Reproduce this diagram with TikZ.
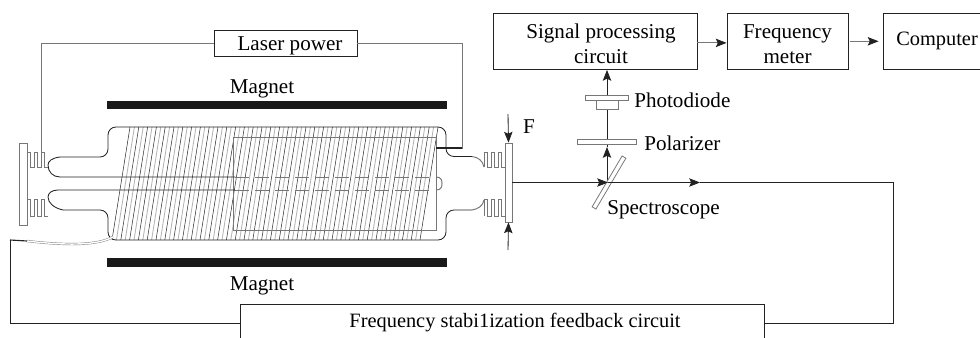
\documentclass[tikz,border=0pt]{standalone}
\usepackage{fontspec}
\setmainfont{Liberation Serif}
\usetikzlibrary{arrows.meta, positioning, calc}
\definecolor{wiredark}{HTML}{222222}
\definecolor{wiregrey}{HTML}{777777}
\definecolor{coilgrey}{HTML}{B4B4B4}

\begin{document}
\begin{tikzpicture}[x=.25mm, y=-.25mm, font=\fontsize{15}{18}\selectfont,
          wire/.style={draw=wiredark, line width=.6pt},
          softwire/.style={draw=wiregrey, line width=.7pt},
          tipped/.style={wire, -{Stealth[length=2.7mm, width=2.1mm, inset=.5mm, color=wiredark]}},
          blockbox/.style={draw=wiredark, line width=.6pt, fill=white, inner sep=0pt, align=center},
          plate/.style={draw=wiregrey, line width=.55pt, fill=white, inner sep=0pt},
          magnet/.style={fill=black!90, inner sep=0pt, minimum width=85mm, minimum height=2.1mm}]
  \useasboundingbox (0,0) rectangle (980,338);

  % coil windings
  \foreach \cx in {112,120.8,...,424} \draw[wire, line width=.35pt] (\cx,240) -- ++(18,-113);
  \foreach \cx in {116.4,125.2,...,424} \draw[draw=coilgrey, line width=.6pt] (\cx,240) -- ++(18,-113);
  \draw[softwire] (233.5,137) rectangle (436,230);

  % laser tube
  \draw[wire, rounded corners=2mm] (60,157) -- (108,157) -- (108,127) -- (446,127) -- (446,156.5) -- (472,156.5);
  \draw[wire, rounded corners=2mm] (63,210) -- (108,210) -- (108,240) -- (446,240) -- (446,210) -- (472,210);
  \draw[wire] (60,157) .. controls (52,158) and (48,161) .. (48,165) .. controls (48,172) and (53,177) .. (60,177) -- (235,177);
  \draw[wire] (63,210) .. controls (54,208) and (48,203) .. (48,197) .. controls (48,193) and (52,190) .. (58,190) -- (235,190);
  \draw[softwire] (472,156.5) .. controls (478,157) and (483,161) .. (484,167);
  \draw[softwire] (472,210) .. controls (478,209) and (483,206) .. (484,200);
  \draw[softwire, dash pattern=on 3.5mm off 1.5mm] (235,177) -- (430,177);
  \draw[softwire, dash pattern=on 3.5mm off 1.5mm] (235,190) -- (430,190);
  \draw[softwire] (436,177) .. controls (441,177) and (442,180) .. (442,183.5) .. controls (442,187) and (441,190) .. (436,190);

  % bellows
  \foreach \bx/\by/\bd in {27/152/15, 27/199/17, 484/152/15, 484/199/17}
    \draw[softwire] (\bx,\by+\bd) -- (\bx,\by) -- ++(3.5,0) -- ++(0,\bd) -- ++(3.5,0) -- ++(0,-\bd)
      -- ++(3.5,0) -- ++(0,\bd) -- ++(3.5,0) -- ++(0,-\bd) -- ++(3.5,0) -- ++(0,\bd) -- ++(3.5,0);

  \node[plate, minimum width=2mm, minimum height=20.5mm] (mirrorL) at (23,184) {};
  \node[plate, minimum width=1.75mm, minimum height=19.75mm] (mirrorR) at (508.5,182.5) {};
  \node[magnet] (magT) at (277,105) {};
  \node[magnet] (magB) at (277,262.5) {};
  \node at (262,88.5) (magTtext) {Magnet};
  \node at (262,286) (magBtext) {Magnet};

  % blocks
  \node[blockbox, minimum width=35.75mm, minimum height=6.7mm] (laser) at (285.5,43.4) {};
  \node at (290,46) (lasertext) {Laser power};
  \node[blockbox, minimum width=51mm, minimum height=14.1mm] (signal) at (595,41.3) {};
  \node[align=center] at (601,44) (signaltext) {Signal processing\\circuit};
  \node[blockbox, minimum width=30.25mm, minimum height=14.1mm] (freq) at (787.5,41.3) {};
  \node[align=center] at (787.5,44.5) (freqtext) {Frequency\\meter};
  \node[blockbox, minimum width=27mm, minimum height=14.1mm, font=\fontsize{14.5}{18}\selectfont] (comp) at (937,41.3) {Computer};
  \node[blockbox, minimum width=131mm, minimum height=9.5mm] (feedback) at (502,323) {};
  \node[font=\fontsize{14.5}{18}\selectfont] at (515,322.5) (feedbacktext) {Frequency stabi1ization feedback circuit};

  % connectors of the blocks
  \coordinate (laserL) at (41,152);
  \coordinate (laserR) at (436,148);
  \draw[softwire] (laser.west) -- (41,43.4) -- (laserL);
  \draw[softwire] (laser.east) -- (462,43.4) -- (462,148) -- (laserR);
  \draw[wire, line width=1.2pt] (laserR) -- (462,148);
  \draw[tipped, draw=wiregrey] ([yshift=-.4mm]signal.east) -- ([yshift=-.4mm]freq.west);
  \draw[tipped, draw=wiregrey] ([xshift=.5mm]freq.east) -- ([xshift=-1mm]comp.west);

  % optical path
  \coordinate (split) at (608,182.5);
  \coordinate (beammark) at (700,182.5);
  \coordinate (turn) at (893,182.5);
  \coordinate (polmark) at (607,147);
  \draw[tipped] (split -| polmark) -- (polmark);
  \draw[wire] (polmark) -- (607,100);
  \node[plate, minimum width=14.75mm, minimum height=1.1mm] (polarizer) at (607,142) {};
  \node[plate, minimum width=5.4mm, minimum height=2.3mm] (diodecase) at (607.5,104.5) {};
  \node[plate, minimum width=10.8mm, minimum height=1.1mm] (diodeplate) at (607,98) {};
  \draw[tipped] (diodeplate.north) -- (diodeplate.north |- signal.south);
  \node[plate, rotate=59.5, minimum width=14.75mm, minimum height=1.1mm] (spectro) at (609,182.5) {};
  \draw[tipped] (mirrorR.east |- split) -- (split);
  \draw[tipped] (split) -- (beammark);
  \draw[wire] (beammark) -- (turn) -- (turn |- feedback.east) -- (feedback.east);
  \node[anchor=west, inner sep=0pt] at (634,100) (diodetext) {Photodiode};
  \node[anchor=west, inner sep=0pt] at (644,143) (poltext) {Polarizer};
  \node[anchor=west, inner sep=0pt] at (607,210) (spectrotext) {Spectroscope};

  % squeezing force
  \coordinate (forceT) at (508,114);
  \coordinate (forceB) at (508,250);
  \draw[tipped] (forceT) -- (mirrorR.north);
  \draw[tipped] (forceB) -- (mirrorR.south);
  \node at (529,127) (forcetext) {F};

  % feedback wire
  \coordinate (coilend) at (113,237);
  \coordinate (wireend) at (10,240);
  \draw[softwire, line width=.3pt, double=white, double distance=.35mm] (coilend) .. controls (98,245) and (70,246) .. (27,241);
  \draw[wire, line width=.8pt] (27,241) -- (wireend);
  \draw[wire] (wireend) -- (10,323) -- (feedback.west);
\end{tikzpicture}
\end{document}
